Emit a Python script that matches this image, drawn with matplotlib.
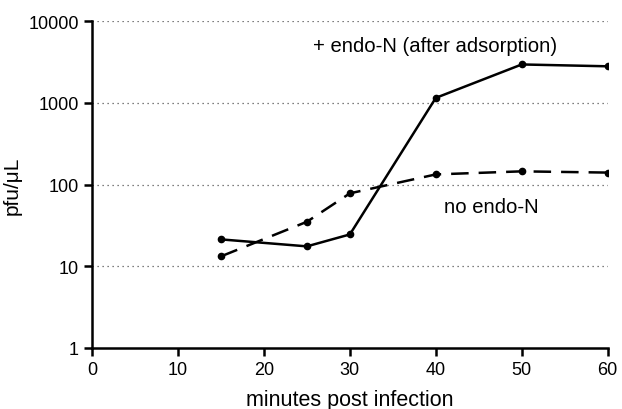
import numpy as np
import matplotlib.pyplot as plt

plt.rcParams["font.family"] = ["Liberation Sans", "DejaVu Sans"]

# === Data ===
minutes = [15, 25, 30, 40, 50, 60]
with_endo_n = [21.3, 17.5, 24.5, 1150, 2950, 2800]
no_endo_n = [13.2, 35, 78, 133, 145, 140]

fig = plt.figure(figsize=(6.22, 4.10), dpi=100)
ax = fig.add_axes([0.148, 0.149, 0.829, 0.797])

ax.plot(minutes, with_endo_n, color="black", lw=1.8, marker="o", ms=4.5)
ax.plot(minutes, no_endo_n, color="black", lw=1.8, marker="o", ms=4.5,
        dashes=(7, 4))

ax.set_yscale("log")
ax.set_ylim(1, 10000)
ax.set_xlim(0, 60)
ax.set_yticks([1, 10, 100, 1000, 10000])
ax.set_yticklabels(["1", "10", "100", "1000", "10000"])
ax.minorticks_off()
ax.set_xticks(np.arange(0, 61, 10))

for y in [10, 100, 1000, 10000]:
    ax.axhline(y, color="#555555", lw=0.9, ls=(0, (1, 3)), zorder=0)

for s in ["top", "right"]:
    ax.spines[s].set_visible(False)
for s in ["left", "bottom"]:
    ax.spines[s].set_linewidth(1.8)
ax.tick_params(axis="both", direction="out", width=1.8, length=6, labelsize=13)

ax.set_xlabel("minutes post infection", fontsize=15.5, labelpad=8)
ax.set_ylabel("pfu/\u03bcL", fontsize=15)
ax.yaxis.set_label_coords(-0.137, 0.5)

ax.text(25.7, 5100, "+ endo-N (after adsorption)", fontsize=14.6, va="center")
ax.text(41, 54, "no endo-N", fontsize=14.6, va="center")

plt.savefig("out.png", dpi=100)
